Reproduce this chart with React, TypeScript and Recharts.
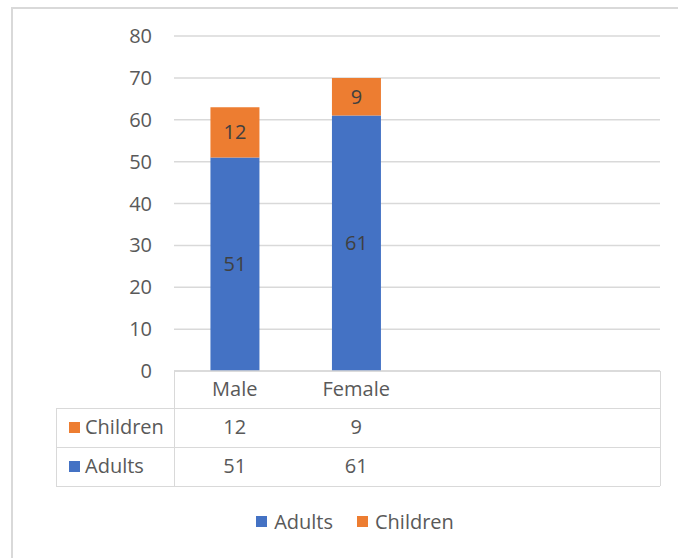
import { BarChart, Bar, XAxis, YAxis, CartesianGrid, Legend, LabelList } from 'recharts';

const categories = ['Male', 'Female', '', ''];
const adults = [51, 61, null, null];
const children = [12, 9, null, null];
const yTicks = [0, 10, 20, 30, 40, 50, 60, 70, 80];

const data = categories.map((name, i) => ({ name, Adults: adults[i], Children: children[i] }));

const BLUE = '#4472C4';
const ORANGE = '#ED7D31';
const GRID = '#D9D9D9';
const TEXT = '#595959';
const FONT = '"Open Sans", sans-serif';
const FS = 20;

// plot area geometry
const PLOT_LEFT = 174;
const PLOT_RIGHT = 660;
const BAND = (PLOT_RIGHT - PLOT_LEFT) / categories.length;

const tableRows = [
  { label: 'Children', color: ORANGE, values: children, top: 408 },
  { label: 'Adults', color: BLUE, values: adults, top: 447 },
];

const legendItems = [
  { label: 'Adults', color: BLUE },
  { label: 'Children', color: ORANGE },
];

const LegendContent = () => (
  <div style={{ display: 'flex', justifyContent: 'center', gap: 24, fontSize: FS, color: TEXT, fontFamily: FONT }}>
    {legendItems.map((it) => (
      <span key={it.label} style={{ display: 'flex', alignItems: 'center' }}>
        <span style={{ width: 11, height: 11, background: it.color, display: 'inline-block', marginRight: 7 }} />
        {it.label}
      </span>
    ))}
  </div>
);

const App = () => {
  return (
    <div style={{ position: 'absolute', left: 0, top: 0, width: 678, height: 558, overflow: 'hidden', background: '#fff', fontFamily: FONT }}>
      <div style={{ position: 'absolute', left: 11, top: 7, width: 700, height: 600, border: `2px solid ${GRID}` }} />
      <BarChart
        width={678}
        height={558}
        data={data}
        margin={{ top: 36, right: 678 - PLOT_RIGHT, left: 0, bottom: 150 }}
        barCategoryGap="30%"
        style={{ position: 'absolute', left: 0, top: 0 }}
      >
        <CartesianGrid vertical={false} stroke={GRID} strokeWidth={1.5} />
        <XAxis
          dataKey="name"
          height={37}
          tickLine={false}
          tickSize={0}
          tickMargin={11}
          axisLine={{ stroke: GRID, strokeWidth: 1.5 }}
          tick={{ fill: TEXT, fontSize: FS, fontFamily: FONT }}
        />
        <YAxis
          width={PLOT_LEFT}
          domain={[0, 80]}
          ticks={yTicks}
          axisLine={false}
          tickLine={false}
          tickSize={0}
          tickMargin={22}
          tick={{ fill: TEXT, fontSize: FS, fontFamily: FONT }}
        />
        <Legend
          content={<LegendContent />}
          wrapperStyle={{ top: 508, left: 150, width: 410, height: 0 }}
        />
        <Bar dataKey="Adults" stackId="a" fill={BLUE} isAnimationActive={false}>
          <LabelList dataKey="Adults" position="center" fill="#404040" fontSize={FS} fontFamily={FONT} />
        </Bar>
        <Bar dataKey="Children" stackId="a" fill={ORANGE} isAnimationActive={false}>
          <LabelList dataKey="Children" position="center" fill="#404040" fontSize={FS} fontFamily={FONT} />
        </Bar>
      </BarChart>

      {/* data table */}
      <div style={{ position: 'absolute', left: PLOT_LEFT, top: 371, width: 0, height: 115, borderLeft: `1.5px solid ${GRID}` }} />
      <div style={{ position: 'absolute', left: PLOT_RIGHT, top: 371, width: 0, height: 115, borderLeft: `1.5px solid ${GRID}` }} />
      <div style={{ position: 'absolute', left: 56, top: 408, width: 0, height: 78, borderLeft: `1.5px solid ${GRID}` }} />
      {[408, 447, 486].map((y) => (
        <div key={y} style={{ position: 'absolute', left: 56, top: y, width: PLOT_RIGHT - 56, height: 0, borderTop: `1.5px solid ${GRID}` }} />
      ))}
      {tableRows.map((row) => (
        <div key={row.label}>
          <div style={{ position: 'absolute', left: 69, top: row.top + 14, width: 11, height: 11, background: row.color }} />
          <div style={{ position: 'absolute', left: 85, top: row.top + 4, fontSize: FS, color: TEXT, lineHeight: '30px' }}>{row.label}</div>
          {row.values.map((v, i) =>
            v == null ? null : (
              <div
                key={i}
                style={{ position: 'absolute', left: PLOT_LEFT + BAND * i, width: BAND, top: row.top + 4, textAlign: 'center', fontSize: FS, color: TEXT, lineHeight: '30px' }}
              >
                {v}
              </div>
            )
          )}
        </div>
      ))}
    </div>
  );
};

export default App;
